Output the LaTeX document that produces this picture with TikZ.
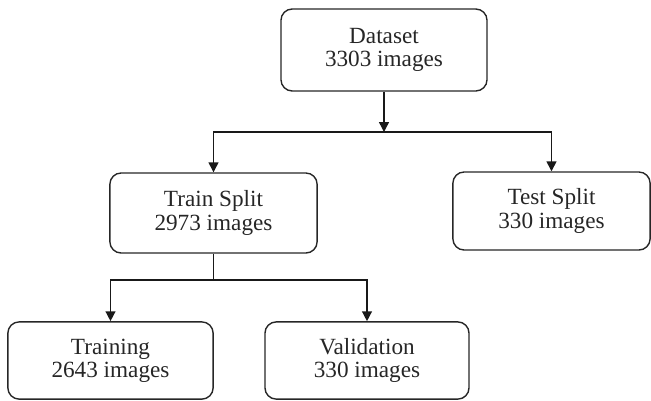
\documentclass[tikz,border=0pt]{standalone}
\usepackage{fontspec}
\setmainfont{Liberation Serif}
\usetikzlibrary{positioning, calc, arrows.meta}

\begin{document}
\begin{tikzpicture}[
    x=0.025cm, y=-0.025cm,
    box/.style={rectangle, draw=black!85, line width=1pt, rounded corners=8pt,
                minimum width=5.15cm, minimum height=2cm, align=center,
                text=black!85, font=\fontsize{16.5}{16.6}\selectfont},
    flow/.style={draw=black!90, line width=1pt, -{Triangle[length=7pt,width=7pt]}},
    link/.style={draw=black!90, line width=1pt},
  ]
    \useasboundingbox (0,0) rectangle (651,401);

    % top of the tree
    \node[box, minimum height=2.05cm] (data) at (384,50) {Dataset\\3303 images};

    % first split
    \node[box, minimum width=5.18cm] (train) at (213.5,213) {Train Split\\2973 images};
    \node[box, minimum width=4.93cm, minimum height=1.95cm] (test) at (551.5,211) {Test Split\\330 images};

    % second split
    \node[box, minimum width=5.13cm, minimum height=1.93cm] (training) at (110.5,360.5) {Training\\2643 images};
    \node[box, minimum width=5.1cm, minimum height=1.93cm] (valid) at (367,360.5) {Validation\\330 images};

    \coordinate (fork1) at (384,132);
    \coordinate (fork2) at (213.5,280);

    \draw[flow] (data) -- (fork1);
    \draw[flow] (fork1) -| (train);
    \draw[flow] (fork1) -| (test);

    \draw[link] (train) -- (fork2);
    \draw[flow] (fork2) -| (training);
    \draw[flow] (fork2) -| (valid);
  \end{tikzpicture}
\end{document}
